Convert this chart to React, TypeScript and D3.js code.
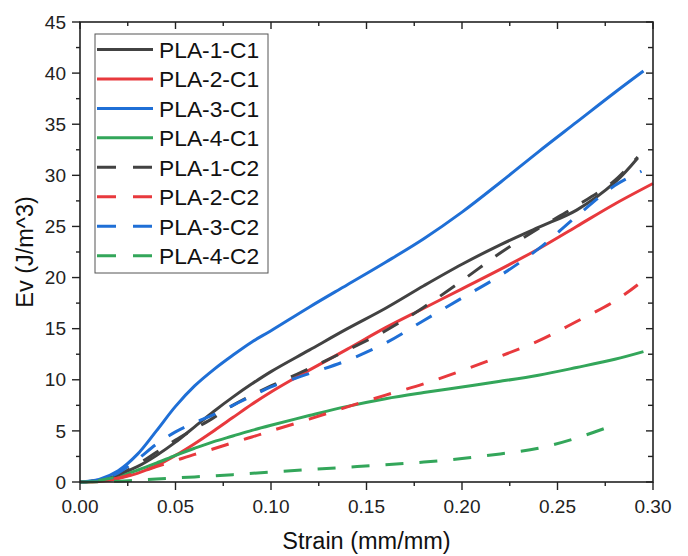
import React from "react";
import * as d3 from "d3";

// Strain (mm/mm) sample points and volumetric energy Ev (J/m^3) per specimen
const pla1c1Strain = [0, 0.01, 0.02, 0.03, 0.04, 0.05, 0.06, 0.07, 0.08, 0.09, 0.1, 0.12, 0.14, 0.16, 0.18, 0.2, 0.22, 0.24, 0.26, 0.28, 0.292];
const pla1c1Ev = [0, 0.15, 0.7, 1.5, 2.6, 3.9, 5.4, 6.9, 8.3, 9.6, 10.8, 12.9, 15.0, 17.0, 19.2, 21.3, 23.2, 24.9, 26.6, 29.3, 31.7];

const pla2c1Strain = [0, 0.01, 0.02, 0.03, 0.04, 0.05, 0.06, 0.07, 0.08, 0.09, 0.1, 0.11, 0.12, 0.14, 0.16, 0.18, 0.2, 0.22, 0.24, 0.26, 0.28, 0.3];
const pla2c1Ev = [0, 0.05, 0.35, 0.85, 1.6, 2.6, 3.75, 5.0, 6.3, 7.6, 8.8, 9.9, 10.95, 13.0, 15.1, 17.0, 18.9, 20.8, 22.8, 25.0, 27.2, 29.2];

const pla3c1Strain = [0, 0.01, 0.02, 0.03, 0.04, 0.05, 0.06, 0.07, 0.08, 0.09, 0.1, 0.12, 0.14, 0.16, 0.18, 0.2, 0.22, 0.24, 0.26, 0.28, 0.295];
const pla3c1Ev = [0, 0.25, 1.1, 2.7, 5.0, 7.4, 9.4, 11.0, 12.4, 13.7, 14.8, 17.1, 19.3, 21.5, 23.8, 26.4, 29.3, 32.3, 35.2, 38.1, 40.2];

const pla4c1Strain = [0, 0.01, 0.02, 0.03, 0.04, 0.05, 0.06, 0.07, 0.08, 0.09, 0.1, 0.12, 0.14, 0.16, 0.18, 0.2, 0.22, 0.24, 0.26, 0.28, 0.295];
const pla4c1Ev = [0, 0.15, 0.55, 1.15, 1.85, 2.6, 3.3, 3.95, 4.5, 5.05, 5.55, 6.5, 7.4, 8.15, 8.75, 9.3, 9.85, 10.45, 11.2, 12.0, 12.75];

const pla1c2Strain = [0, 0.01, 0.02, 0.03, 0.04, 0.05, 0.06, 0.07, 0.08, 0.09, 0.1, 0.12, 0.14, 0.16, 0.18, 0.2, 0.22, 0.24, 0.26, 0.28, 0.292];
const pla1c2Ev = [0, 0.15, 0.7, 1.7, 2.9, 4.1, 5.2, 6.3, 7.5, 8.5, 9.4, 11.1, 12.9, 14.8, 17.1, 19.7, 22.4, 24.8, 27.0, 29.5, 31.8];

const pla2c2Strain = [0, 0.01, 0.02, 0.03, 0.04, 0.05, 0.06, 0.07, 0.08, 0.09, 0.1, 0.12, 0.14, 0.16, 0.18, 0.2, 0.22, 0.24, 0.26, 0.28, 0.292];
const pla2c2Ev = [0, 0.1, 0.4, 0.9, 1.5, 2.1, 2.7, 3.25, 3.85, 4.4, 5.0, 6.15, 7.35, 8.5, 9.6, 10.9, 12.3, 13.8, 15.7, 17.7, 19.3];

const pla3c2Strain = [0, 0.01, 0.02, 0.03, 0.04, 0.05, 0.06, 0.07, 0.08, 0.09, 0.1, 0.12, 0.14, 0.16, 0.18, 0.2, 0.22, 0.24, 0.26, 0.28, 0.294];
const pla3c2Ev = [0, 0.2, 0.9, 2.2, 3.7, 4.9, 5.8, 6.6, 7.5, 8.4, 9.3, 10.6, 11.9, 13.6, 15.8, 18.0, 20.2, 22.8, 26.0, 29.0, 30.4];

const pla4c2Strain = [0, 0.02, 0.04, 0.06, 0.08, 0.1, 0.12, 0.14, 0.16, 0.18, 0.2, 0.22, 0.24, 0.26, 0.28];
const pla4c2Ev = [0, 0.08, 0.3, 0.5, 0.72, 0.98, 1.22, 1.45, 1.68, 1.95, 2.3, 2.75, 3.3, 4.3, 5.6];

const seriesNames = ["PLA-1-C1", "PLA-2-C1", "PLA-3-C1", "PLA-4-C1", "PLA-1-C2", "PLA-2-C2", "PLA-3-C2", "PLA-4-C2"];
const seriesStrain = [pla1c1Strain, pla2c1Strain, pla3c1Strain, pla4c1Strain, pla1c2Strain, pla2c2Strain, pla3c2Strain, pla4c2Strain];
const seriesEv = [pla1c1Ev, pla2c1Ev, pla3c1Ev, pla4c1Ev, pla1c2Ev, pla2c2Ev, pla3c2Ev, pla4c2Ev];
const seriesColors = ["#424242", "#e8393d", "#1f6fd6", "#33a65a", "#424242", "#e8393d", "#1f6fd6", "#33a65a"];
const seriesDashed = [false, false, false, false, true, true, true, true];

const xTicks = [0, 0.05, 0.1, 0.15, 0.2, 0.25, 0.3];
const xMinorTicks = [0.025, 0.075, 0.125, 0.175, 0.225, 0.275];
const yTicks = [0, 5, 10, 15, 20, 25, 30, 35, 40, 45];
const yMinorTicks = [2.5, 7.5, 12.5, 17.5, 22.5, 27.5, 32.5, 37.5, 42.5];

const W = 688;
const H = 556;
const margin = { left: 80, top: 22, right: 35, bottom: 74 };
const FONT = "'Liberation Sans', Arial, Helvetica, sans-serif";
const AXIS = "#222";

export default function App() {
  const x = d3.scaleLinear().domain([0, 0.3]).range([margin.left, W - margin.right]);
  const y = d3.scaleLinear().domain([0, 45]).range([H - margin.bottom, margin.top]);
  const x0 = x.range()[0];
  const x1 = x.range()[1];
  const y0 = y.range()[0];
  const y1 = y.range()[1];

  const line = d3
    .line<[number, number]>()
    .x((d) => x(d[0]))
    .y((d) => y(d[1]))
    .curve(d3.curveCatmullRom.alpha(0.5));

  const legendX = 95;
  const legendY = 34;
  const rowH = 29.45;

  return (
    <svg
      width={W}
      height={H}
      style={{ position: "absolute", left: 0, top: 0, background: "#fff" }}
      fontFamily={FONT}
    >
      <rect x={0} y={0} width={W} height={H} fill="#fff" />

      {/* data curves */}
      <g fill="none" strokeLinejoin="round">
        {seriesNames.map((name, i) => {
          const pts = seriesStrain[i].map((s, k) => [s, seriesEv[i][k]] as [number, number]);
          return (
            <path
              key={name}
              d={line(pts) || ""}
              stroke={seriesColors[i]}
              strokeWidth={3}
              strokeDasharray={seriesDashed[i] ? "18 16" : undefined}
            />
          );
        })}
      </g>

      {/* frame */}
      <rect x={x0} y={y1} width={x1 - x0} height={y0 - y1} fill="none" stroke={AXIS} strokeWidth={1.6} />

      {/* ticks: outward on bottom/left, inward on top/right */}
      <g stroke={AXIS} strokeWidth={1.4}>
        {xTicks.map((t) => (
          <g key={"xt" + t}>
            <line x1={x(t)} x2={x(t)} y1={y0} y2={y0 + 8} />
            <line x1={x(t)} x2={x(t)} y1={y1} y2={y1 + 7} />
          </g>
        ))}
        {xMinorTicks.map((t) => (
          <g key={"xm" + t}>
            <line x1={x(t)} x2={x(t)} y1={y0} y2={y0 + 4} />
            <line x1={x(t)} x2={x(t)} y1={y1} y2={y1 + 4} />
          </g>
        ))}
        {yTicks.map((t) => (
          <g key={"yt" + t}>
            <line x1={x0 - 8} x2={x0} y1={y(t)} y2={y(t)} />
            <line x1={x1 - 7} x2={x1} y1={y(t)} y2={y(t)} />
          </g>
        ))}
        {yMinorTicks.map((t) => (
          <g key={"ym" + t}>
            <line x1={x0 - 4} x2={x0} y1={y(t)} y2={y(t)} />
            <line x1={x1 - 5} x2={x1} y1={y(t)} y2={y(t)} />
          </g>
        ))}
      </g>

      {/* tick labels */}
      <g fontSize={19} fill="#222">
        {xTicks.map((t) => (
          <text key={"xl" + t} x={x(t)} y={513} textAnchor="middle">
            {d3.format(".2f")(t)}
          </text>
        ))}
        {yTicks.map((t) => (
          <text key={"yl" + t} x={66} y={y(t)} dy="0.35em" textAnchor="end">
            {t}
          </text>
        ))}
      </g>

      {/* axis titles */}
      <text x={(x0 + x1) / 2} y={549} textAnchor="middle" fontSize={23.5} fill="#111">
        Strain (mm/mm)
      </text>
      <text
        transform={`translate(33, ${(y0 + y1) / 2}) rotate(-90)`}
        textAnchor="middle"
        fontSize={23.5}
        fill="#111"
      >
        Ev (J/m^3)
      </text>

      {/* legend */}
      <rect x={legendX} y={legendY} width={173} height={239} fill="#fff" stroke="#555" strokeWidth={1} />
      {seriesNames.map((name, i) => {
        const ry = 49.5 + i * rowH;
        return (
          <g key={"lg" + name}>
            <line
              x1={97}
              x2={153}
              y1={ry}
              y2={ry}
              stroke={seriesColors[i]}
              strokeWidth={3}
              strokeDasharray={seriesDashed[i] ? "19 17" : undefined}
            />
            <text x={159} y={ry + 8.3} fontSize={22.8} fill="#111">
              {name}
            </text>
          </g>
        );
      })}
    </svg>
  );
}
